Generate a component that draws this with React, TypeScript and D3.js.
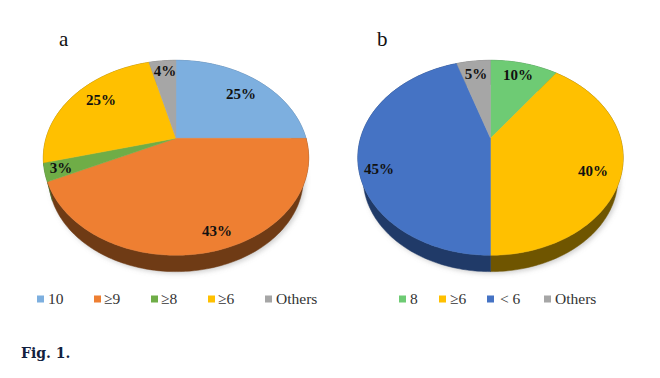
import React from "react";
import * as d3 from "d3";

const categoriesA = ["10", "≥9", "≥8", "≥6", "Others"];
const valuesA = [25, 43, 3, 25, 4];
const colorsA = ["#7dafdf", "#ee7f32", "#6fad47", "#ffc000", "#a6a6a6"];
const wallsA = ["#4a6f92", "#6f3b15", "#3f6a2a", "#8a6800", "#666666"];

const categoriesB = ["8", "≥6", "＜6", "Others"];
const valuesB = [10, 40, 45, 5];
const colorsB = ["#6ecb74", "#ffc000", "#4573c4", "#a6a6a6"];
const wallsB = ["#3c7a44", "#6f5500", "#203a68", "#666666"];

const labelPosA: [number, number][] = [[241, 99], [217, 236], [61, 173], [101, 105], [165, 76]];
const labelPosB: [number, number][] = [[518, 80], [593, 176], [379, 174], [476, 79]];
const legendA = [[37, 48], [94, 104], [151, 161], [208, 218], [265, 276]];
const legendB = [[399, 410], [439, 450], [487, 500], [544, 555]];

const K = 0.2;
const RX = 130;
const RY = 93.6;
const WALL_DROP = 21;
const WALL_SCALE = 0.96;

function project(t: number, cx: number, cy: number, s = 1): [number, number] {
  const w = 1 + K * Math.cos(t);
  return [cx + (s * RX * Math.sin(t)) / w, cy - (s * RY * Math.cos(t)) / w];
}

function arcPoints(a0: number, a1: number, cx: number, cy: number, s = 1) {
  const n = Math.max(2, Math.ceil((a1 - a0) / 0.02));
  return d3.range(n + 1).map((i) => project(a0 + ((a1 - a0) * i) / n, cx, cy, s));
}

const line = d3.line();

function Pie3D({ values, colors, walls, cx, cy, labels, pos }: {
  values: number[]; colors: string[]; walls: string[]; cx: number; cy: number; labels: string[]; pos: [number, number][];
}) {
  const arcs = d3.pie<number>().sort(null)(values);
  return (
    <g>
      <g filter="url(#soft)">
        <path
          d={line(arcPoints(0, 2 * Math.PI, cx + 2, cy + WALL_DROP + 2, WALL_SCALE)) + "Z"}
          fill="#888"
          opacity={0.4}
        />
      </g>
      {arcs.map((a, i) => {
        const top = arcPoints(a.startAngle, a.endAngle, cx, cy);
        const bottom = arcPoints(a.startAngle, a.endAngle, cx, cy + WALL_DROP, WALL_SCALE).reverse();
        return <path key={"w" + i} d={line([...top, ...bottom]) + "Z"} fill={walls[i]} stroke={walls[i]} strokeWidth={0.5} />;
      })}
      {arcs.map((a, i) => {
        const pts = arcPoints(a.startAngle, a.endAngle, cx, cy);
        return <path key={"s" + i} d={line([[cx, cy], ...pts]) + "Z"} fill={colors[i]} stroke={colors[i]} strokeWidth={0.4} />;
      })}
      {arcs.map((a, i) => (
        <text key={"l" + i} x={pos[i][0]} y={pos[i][1]} textAnchor="middle" fontFamily="'Liberation Serif'" fontWeight="bold" fontSize={15} fill="#111">
          {labels[i]}
        </text>
      ))}
    </g>
  );
}

function Legend({ cats, colors, pos }: { cats: string[]; colors: string[]; pos: number[][] }) {
  return (
    <g fontFamily="'Liberation Serif'" fontSize={15.5} fill="#333">
      {cats.map((c, i) => (
        <g key={c}>
          <rect x={pos[i][0]} y={295.5} width={7} height={7} fill={colors[i]} />
          <text x={pos[i][1]} y={303.5}>{c === "＜6" ? "< 6" : c}</text>
        </g>
      ))}
    </g>
  );
}

export default function App() {
  return (
    <svg width={660} height={378} style={{ position: "absolute", left: 0, top: 0, background: "#fff" }}>
      <defs>
        <filter id="soft" x="-10%" y="-10%" width="120%" height="120%">
          <feGaussianBlur stdDeviation="2.5" />
        </filter>
      </defs>
      <Pie3D values={valuesA} colors={colorsA} walls={wallsA} cx={176} cy={138.3} labels={valuesA.map((v) => v + "%")} pos={labelPosA} />
      <Pie3D values={valuesB} colors={colorsB} walls={wallsB} cx={490.5} cy={138.3} labels={valuesB.map((v) => v + "%")} pos={labelPosB} />
      <text x={59} y={46} fontFamily="'Liberation Serif'" fontSize={21} fill="#111">a</text>
      <text x={377} y={46} fontFamily="'Liberation Serif'" fontSize={21} fill="#111">b</text>
      <Legend cats={categoriesA} colors={colorsA} pos={legendA} />
      <Legend cats={categoriesB} colors={colorsB} pos={legendB} />
      <text x={21} y={358} fontFamily="'DejaVu Serif'" fontWeight="bold" fontSize={14} fill="#12213f">Fig. 1.</text>
    </svg>
  );
}
